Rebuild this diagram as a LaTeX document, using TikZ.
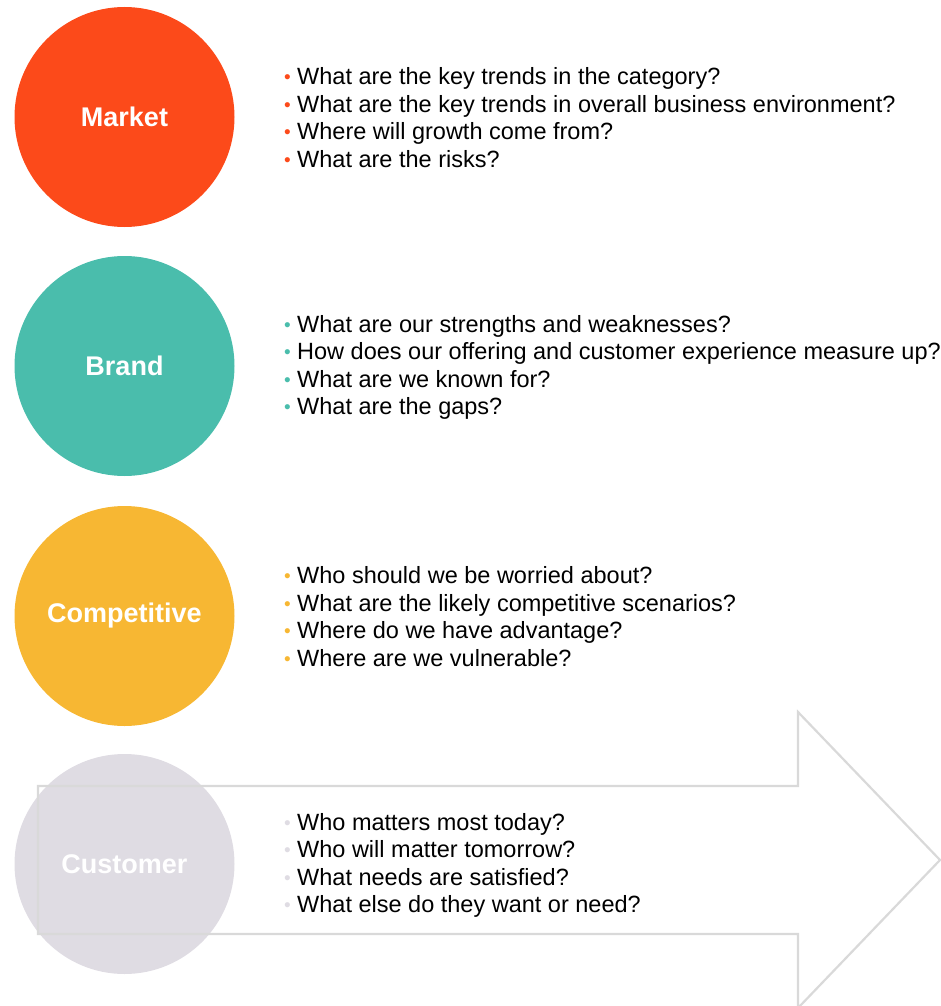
\documentclass[tikz,border=0pt]{standalone}
\usepackage{fontspec}
\setmainfont{Liberation Sans}
\definecolor{cMarket}{HTML}{FC4A1A}
\definecolor{cBrand}{HTML}{4ABDAC}
\definecolor{cComp}{HTML}{F7B733}
\definecolor{cCust}{HTML}{DFDCE3}
\definecolor{cArrow}{HTML}{D9D9D9}
\newcommand{\qb}[1]{\makebox[13pt][l]{\color{#1}\fontsize{19}{19}\selectfont\raisebox{1pt}{•}}}
\begin{document}
\begin{tikzpicture}[x=1pt,y=-1pt,
  topic/.style={circle,fill=#1,minimum size=220pt,inner sep=0pt,text=white,font=\fontsize{27}{27}\selectfont\bfseries},
  qlist/.style={anchor=west,inner sep=0pt,align=left,font=\fontsize{23.5}{27.5}\selectfont}]
\useasboundingbox (0,0) rectangle (941,1006);
\node[topic=cMarket] (market) at (124.5,117) {Market};
\node[topic=cBrand] (brand) at (124.5,366) {Brand};
\node[topic=cComp] (comp) at (124.5,616) {Competitive};
\node[topic=cCust] (cust) at (124.5,864) {};
\draw[cArrow,line width=2.2pt,line join=miter]
  (38,786) -- (798,786) -- (798,712) -- (940,860) -- (798,1008) -- (798,934) -- (38,934) -- cycle;
\node[text=white,font=\fontsize{27}{27}\selectfont\bfseries] (custlabel) at (cust.center) {Customer};
\node[qlist] (mq) at (284,117.5) {\qb{cMarket}What are the key trends in the category?\\
\qb{cMarket}What are the key trends in overall business environment?\\
\qb{cMarket}Where will growth come from?\\
\qb{cMarket}What are the risks?};
\node[qlist] (bq) at (284,367.5) {\qb{cBrand}What are our strengths and weaknesses?\\
\qb{cBrand}How does our offering and customer experience measure up?\\
\qb{cBrand}What are we known for?\\
\qb{cBrand}What are the gaps?};
\node[qlist] (cq) at (284,616.5) {\qb{cComp}Who should we be worried about?\\
\qb{cComp}What are the likely competitive scenarios?\\
\qb{cComp}Where do we have advantage?\\
\qb{cComp}Where are we vulnerable?};
\node[qlist] (uq) at (284,865.5) {\qb{cCust}Who matters most today?\\
\qb{cCust}Who will matter tomorrow?\\
\qb{cCust}What needs are satisfied?\\
\qb{cCust}What else do they want or need?};
\end{tikzpicture}
\end{document}
